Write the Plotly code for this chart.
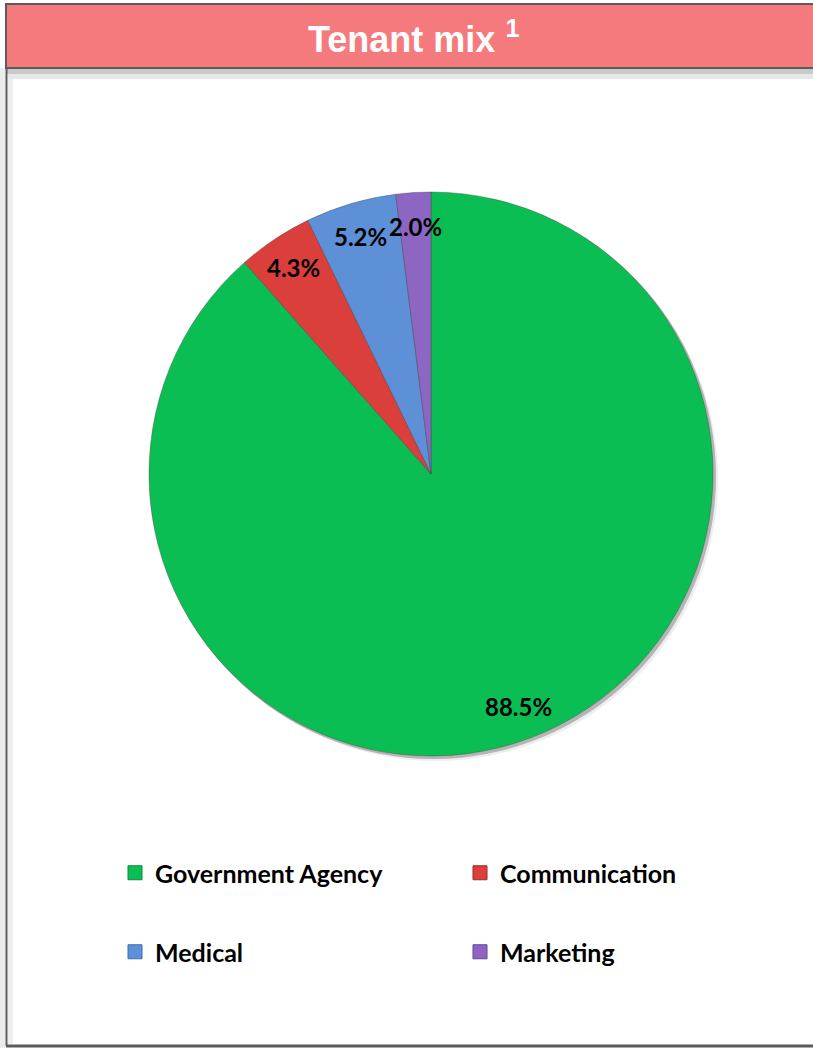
import math
import plotly.graph_objects as go

# Tenant mix by share of leased area
categories = ["Government Agency", "Communication", "Medical", "Marketing"]
shares = [88.5, 4.3, 5.2, 2.0]
colors = ["#0BBE53", "#DB3F3B", "#5E90D8", "#8C66C2"]
edge_colors = ["#078A3B", "#9E2A27", "#3E6BAF", "#61449A"]

W, H = 813, 1048
CX, CY, R = 431, 474, 282  # pie centre and radius in pixels


def px(x):
    return x / W


def py(y):
    return 1 - y / H


fig = go.Figure()

fig.add_trace(go.Pie(
    labels=categories,
    values=shares,
    sort=False,
    direction="clockwise",
    rotation=0,
    textinfo="none",
    showlegend=False,
    marker=dict(colors=colors, line=dict(color="rgba(70,70,70,0.4)", width=1)),
    domain=dict(x=[px(CX - R), px(CX + R)], y=[py(CY + R), py(CY - R)]),
    hoverinfo="label+percent",
))

# percentage labels placed along each slice's bisector
total = sum(shares)
start = 0.0
annotations = []
for val in shares:
    frac = val / total
    mid = (start + frac / 2) * 2 * math.pi
    start += frac
    r = 0.88 * R
    lx = CX + r * math.sin(mid)
    ly = CY - r * math.cos(mid)
    annotations.append(dict(
        x=px(lx), y=py(ly), xref="paper", yref="paper",
        xanchor="center", yanchor="middle",
        text=f"{val:.1f}%", showarrow=False,
        font=dict(family="Lato", size=24, color="black", weight="bold"),
    ))

# title inside the header band
annotations.append(dict(
    x=px(413), y=py(37), xref="paper", yref="paper",
    xanchor="center", yanchor="middle",
    text="Tenant mix <sup>1</sup>", showarrow=False,
    font=dict(family="Liberation Sans", size=36, color="white", weight="bold"),
))

# legend entries: first row in legend, second row in legend2
legend_of = ["legend", "legend", "legend2", "legend2"]
for name, col, edge, lg in zip(categories, colors, edge_colors, legend_of):
    fig.add_trace(go.Scatter(
        x=[None], y=[None], mode="markers", name=name, legend=lg,
        marker=dict(symbol="square", size=14, color=col, line=dict(color=edge, width=1)),
    ))

legend_style = dict(
    orientation="h", x=px(115), xanchor="left", yanchor="middle",
    entrywidth=300, entrywidthmode="pixels",
    bgcolor="rgba(0,0,0,0)", borderwidth=0,
    font=dict(family="Lato", size=25, color="black", weight="bold"),
    itemclick=False, itemdoubleclick=False,
)

shapes = [
    # soft shadow under the pie
    dict(type="circle", xref="paper", yref="paper", layer="below",
         x0=px(CX - R + 5), x1=px(CX + R + 5), y0=py(CY + R + 5), y1=py(CY - R + 5),
         fillcolor="#eeeeee", line=dict(width=0)),
    dict(type="circle", xref="paper", yref="paper", layer="below",
         x0=px(CX - R + 2), x1=px(CX + R + 3), y0=py(CY + R + 3), y1=py(CY - R + 2),
         fillcolor="#b5b5b5", line=dict(width=0)),
    # panel edge shading
    dict(type="rect", xref="paper", yref="paper", layer="below",
         x0=0, x1=px(5), y0=py(1048), y1=py(68), fillcolor="#ececec", line=dict(width=0)),
    dict(type="rect", xref="paper", yref="paper", layer="below",
         x0=px(8), x1=px(13), y0=py(1044), y1=py(68), fillcolor="#eeeeee", line=dict(width=0)),
    dict(type="rect", xref="paper", yref="paper", layer="below",
         x0=px(6), x1=1.02, y0=py(74), y1=py(68), fillcolor="#c9c9c9", line=dict(width=0)),
    dict(type="rect", xref="paper", yref="paper", layer="below",
         x0=px(8), x1=1.02, y0=py(79), y1=py(74), fillcolor="#e7e7e7", line=dict(width=0)),
    # header band
    dict(type="rect", xref="paper", yref="paper", layer="below",
         x0=px(6), x1=1.02, y0=py(68), y1=py(4), fillcolor="#F47A7D",
         line=dict(color="#5b5b5b", width=2)),
    # panel frame
    dict(type="line", xref="paper", yref="paper", layer="above",
         x0=px(6.5), x1=px(6.5), y0=py(1046), y1=py(68), line=dict(color="#5b5b5b", width=2)),
    dict(type="line", xref="paper", yref="paper", layer="above",
         x0=px(6), x1=1.02, y0=py(1046), y1=py(1046), line=dict(color="#5b5b5b", width=3)),
]

fig.update_layout(
    width=W, height=H,
    margin=dict(l=0, r=0, t=0, b=0),
    paper_bgcolor="white", plot_bgcolor="rgba(0,0,0,0)",
    xaxis=dict(visible=False), yaxis=dict(visible=False),
    legend=dict(legend_style, y=py(873)),
    legend2=dict(legend_style, y=py(952)),
    annotations=annotations,
    shapes=shapes,
)

fig.write_html("out.html")
